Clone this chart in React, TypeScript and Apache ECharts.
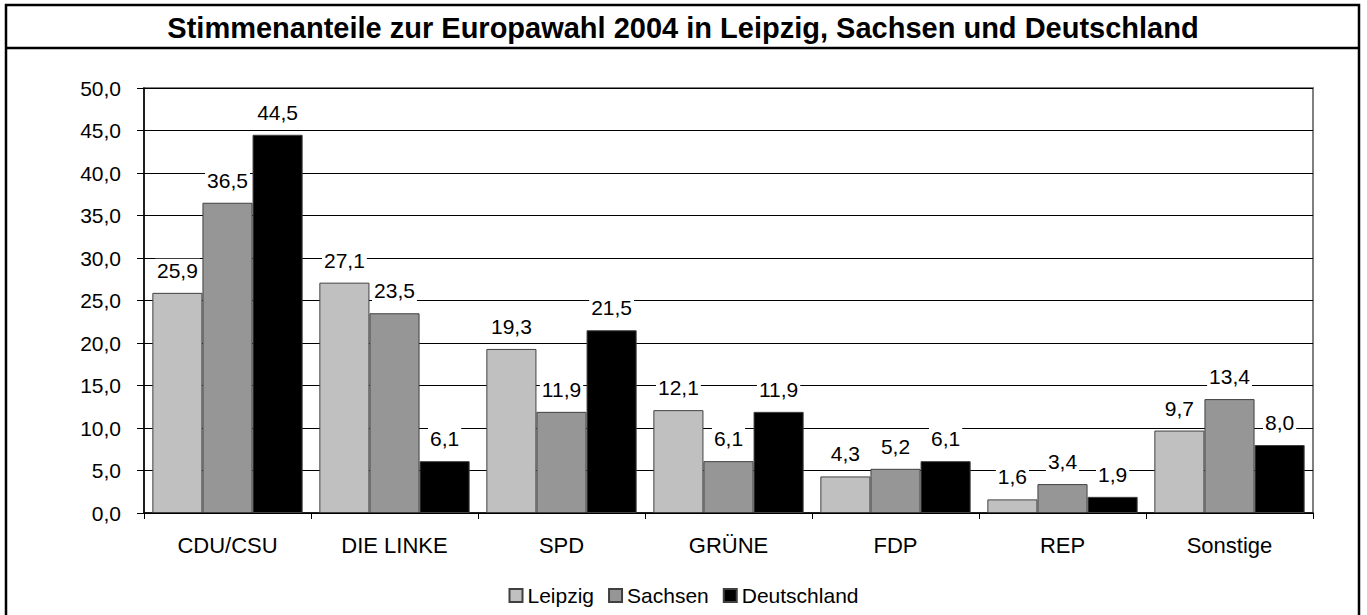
import React, { useEffect, useRef } from "react";
import * as echarts from "echarts";

const categories = ["CDU/CSU", "DIE LINKE", "SPD", "GRÜNE", "FDP", "REP", "Sonstige"];
const leipzig = [25.9, 27.1, 19.3, 12.1, 4.3, 1.6, 9.7];
const sachsen = [36.5, 23.5, 11.9, 6.1, 5.2, 3.4, 13.4];
const deutschland = [44.5, 6.1, 21.5, 11.9, 6.1, 1.9, 8.0];
const seriesNames = ["Leipzig", "Sachsen", "Deutschland"];
const seriesColors = ["#c0c0c0", "#969696", "#000000"];
const titleText = "Stimmenanteile zur Europawahl 2004 in Leipzig, Sachsen und Deutschland";

const FONT = "Arial, 'Liberation Sans', sans-serif";
const fmt = (v: number) => v.toFixed(1).replace(".", ",");

export default function App() {
  const ref = useRef<HTMLDivElement>(null);
  useEffect(() => {
    if (!ref.current) return;
    const chart = echarts.init(ref.current, null, { renderer: "svg" });
    const data = [leipzig, sachsen, deutschland];
    chart.setOption({
      animation: false,
      backgroundColor: "#ffffff",
      textStyle: { fontFamily: FONT },
      grid: {
        left: 144,
        top: 88,
        right: 54,
        bottom: 102,
        show: true,
        borderColor: "#808080",
        borderWidth: 2,
      },
      legend: {
        data: seriesNames,
        left: "center",
        top: 580,
        itemWidth: 13,
        itemHeight: 13,
        itemGap: 14,
        icon: "rect",
        textStyle: { fontSize: 21, color: "#000", fontFamily: FONT },
      },
      xAxis: {
        type: "category",
        data: categories,
        axisLine: { lineStyle: { color: "#000", width: 1.5 } },
        axisTick: { show: true, length: 6, lineStyle: { color: "#000" } },
        axisLabel: { fontSize: 22, color: "#000", margin: 21, fontFamily: FONT },
      },
      yAxis: {
        type: "value",
        min: 0,
        max: 50,
        interval: 5,
        axisLine: { show: true, lineStyle: { color: "#000", width: 1.5 } },
        axisTick: { show: true, length: 7, lineStyle: { color: "#000" } },
        axisLabel: { fontSize: 21, color: "#000", margin: 23, formatter: (v: number) => fmt(v), fontFamily: FONT },
        splitLine: { show: true, lineStyle: { color: "#000", width: 1 } },
      },
      series: data.map((d, i) => ({
        name: seriesNames[i],
        type: "bar",
        data: d,
        barGap: "0%",
        barCategoryGap: "10%",
        itemStyle: { color: seriesColors[i], borderColor: "#404040", borderWidth: 1 },
        label: {
          show: true,
          position: "top",
          distance: 11,
          fontSize: 21,
          color: "#000",
          fontFamily: FONT,
          backgroundColor: "#fff",
          padding: [1, 2],
          formatter: (p: any) => fmt(p.value),
        },
      })),
      graphic: [
        {
          type: "rect",
          shape: { x: 6, y: 5, width: 1353, height: 620 },
          style: { fill: "none", stroke: "#000", lineWidth: 2.5 },
          silent: true,
        },
        {
          type: "line",
          shape: { x1: 6, y1: 48, x2: 1359, y2: 48 },
          style: { stroke: "#000", lineWidth: 2.5 },
          silent: true,
        },
        {
          type: "text",
          x: 683,
          y: 28,
          style: {
            text: titleText,
            font: `bold 29px ${FONT}`,
            fill: "#000",
            textAlign: "center",
            textVerticalAlign: "middle",
          },
          silent: true,
        },
      ],
    });
    return () => chart.dispose();
  }, []);
  return (
    <div
      ref={ref}
      style={{ position: "fixed", left: 0, top: 0, width: 1367, height: 615 }}
    />
  );
}
